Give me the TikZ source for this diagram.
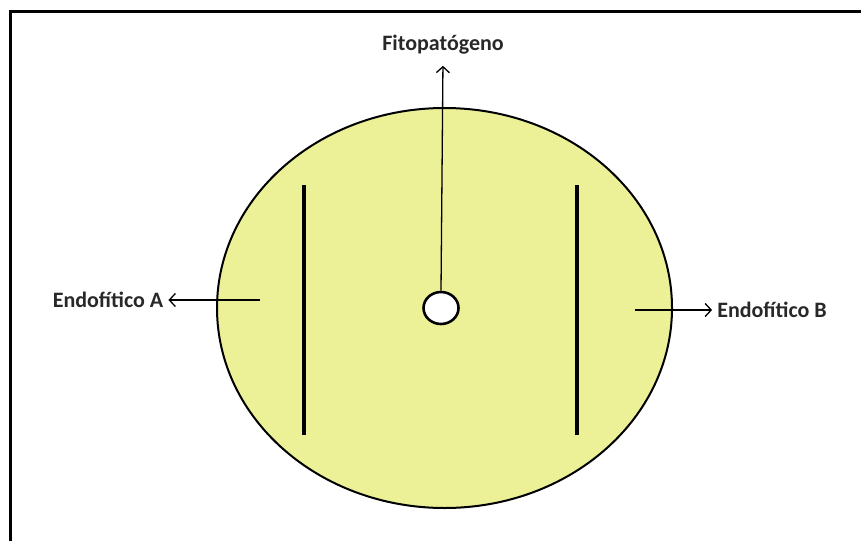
\documentclass[tikz,border=0pt]{standalone}
\usepackage{fontspec}
\setmainfont{Carlito}
\usetikzlibrary{positioning,arrows.meta,shapes.geometric}
\definecolor{agar}{RGB}{236,241,152}
\definecolor{inkgray}{RGB}{40,40,40}
\tikzset{
  pointer/.style={-{Straight Barb[length=6pt, width=13pt]}, line width=1.3pt},
  plate/.style={draw, ellipse, line width=2pt, fill=agar, minimum width=455pt, minimum height=400pt, inner sep=0pt},
  well/.style={draw, ellipse, line width=2.6pt, fill=white, minimum width=35pt, minimum height=32pt, inner sep=0pt},
  streak/.style={line width=4pt},
  lbl/.style={font=\fontsize{22}{26}\selectfont\bfseries, text=inkgray, inner sep=5pt}
}
\begin{document}
\begin{tikzpicture}[x=1pt, y=-1pt]
  \useasboundingbox (0,0) rectangle (861,541);
  % frame (open at right and bottom)
  \draw[line width=3pt] (10,541) -- (10,11) -- (861,11);

  % plate with central well
  \node[plate] (plate) at (444.5,308) {};
  \node[well] (well) at (441,308) {};
  \draw[streak] (304,185) -- (304,435);
  \draw[streak] (577,185) -- (577,435);

  % labels
  \node[lbl] (fito) at (443,45) {Fitopatógeno};
  \node[lbl] (endoA) at (108,300) {Endofítico A};
  \node[lbl] (endoB) at (772,310) {Endofítico B};

  \coordinate (tailA) at (260,300);
  \coordinate (tailB) at (635,310);
  \draw[pointer, shorten >=6pt] (well.north) -- (fito.south);
  \draw[pointer] (tailA) -- (endoA.east);
  \draw[pointer] (tailB) -- (endoB.west);
\end{tikzpicture}
\end{document}
